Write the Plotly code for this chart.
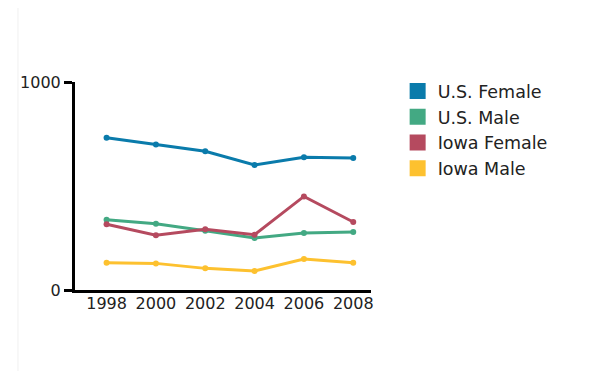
import plotly.graph_objects as go

years = [1998, 2000, 2002, 2004, 2006, 2008]
us_female = [732, 700, 667, 601, 638, 635]
us_male = [338, 319, 285, 250, 274, 279]
iowa_female = [316, 263, 292, 266, 450, 327]
iowa_male = [131, 128, 104, 91, 149, 131]

series_names = ["U.S. Female", "U.S. Male", "Iowa Female", "Iowa Male"]
series_values = [us_female, us_male, iowa_female, iowa_male]
colors = ["#0a7bab", "#43a983", "#b54a5f", "#fdc12f"]

y_ticks = [0, 1000]

fig = go.Figure()
for name, vals, c in zip(series_names, series_values, colors):
    fig.add_trace(go.Scatter(
        x=years, y=vals, mode="lines+markers", name=name,
        line=dict(color=c, width=3), marker=dict(color=c, size=6),
        showlegend=False, cliponaxis=False,
    ))
for name, c in zip(series_names, colors):
    fig.add_trace(go.Scatter(
        x=[None], y=[None], mode="markers", name=name,
        marker=dict(color=c, size=16, symbol="square"),
    ))

# page body has an 8px offset; figure sized so plot area lands at page x 70..371, y 82..290
fig.update_layout(
    width=583, height=363,
    margin=dict(l=62, r=220, t=74, b=81),
    paper_bgcolor="white", plot_bgcolor="white",
    font=dict(family="DejaVu Sans, sans-serif", color="#222"),
    legend=dict(x=1.09, y=1.043, xanchor="left", yanchor="top",
                font=dict(size=17.5, color="#222"), itemwidth=30,
                tracegroupgap=0),
    xaxis=dict(range=[1996.72, 2008.72], tickvals=years, showgrid=False,
               zeroline=False, showline=True, linecolor="black", linewidth=3,
               ticks="", ticklabelstandoff=-3,
               tickfont=dict(size=16, color="#222")),
    yaxis=dict(range=[0, 1000], tickvals=y_ticks, showgrid=False,
               zeroline=False, showline=True, linecolor="black", linewidth=3,
               ticks="outside", ticklen=8, tickwidth=3, tickcolor="black",
               tickfont=dict(size=16, color="#222")),
    shapes=[dict(type="line", xref="paper", yref="paper",
                 x0=(4 - 62) / 301, x1=(4 - 62) / 301,
                 y0=-0.6, y1=1.6,
                 line=dict(color="#f0f0f0", width=1), layer="below")],
)

fig.write_html("out.html")
